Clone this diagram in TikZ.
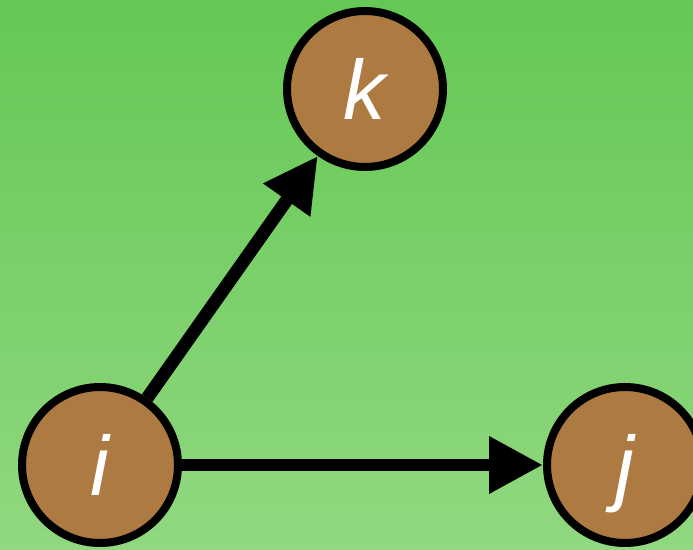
\documentclass[tikz,border=0pt]{standalone}
\usepackage{fontspec}
\setsansfont{Liberation Sans}
\usetikzlibrary{arrows.meta,positioning}
\definecolor{bgtop}{RGB}{100,200,84}
\definecolor{bgbottom}{RGB}{145,216,128}
\definecolor{vertexbrown}{RGB}{173,123,65}

\begin{document}
\begin{tikzpicture}[x=0.02cm,y=-0.02cm,font=\sffamily,
    vertex/.style={circle,draw=black,line width=0.16cm,fill=vertexbrown,
      minimum size=3.12cm,inner sep=0pt,text=white,
      text height=1.22cm,text depth=0pt,
      font=\sffamily\itshape\fontsize{48}{52}\selectfont},
    edge/.style={line width=0.26cm,-{Triangle[length=1.08cm,width=1.08cm]}}]
      % background
      \shade[top color=bgtop,bottom color=bgbottom] (0,0) rectangle (693,550);
      \useasboundingbox (0,0) rectangle (693,550);
      % vertices
      \node[vertex] (k) at (365,89) {k};
      \node[vertex] (i) at (100,465) {i};
      \node[vertex] (j) at (625,465) {j};
      % edges
      \draw[edge] (i) -- (k);
      \draw[edge] (i) -- (j);
\end{tikzpicture}
\end{document}
